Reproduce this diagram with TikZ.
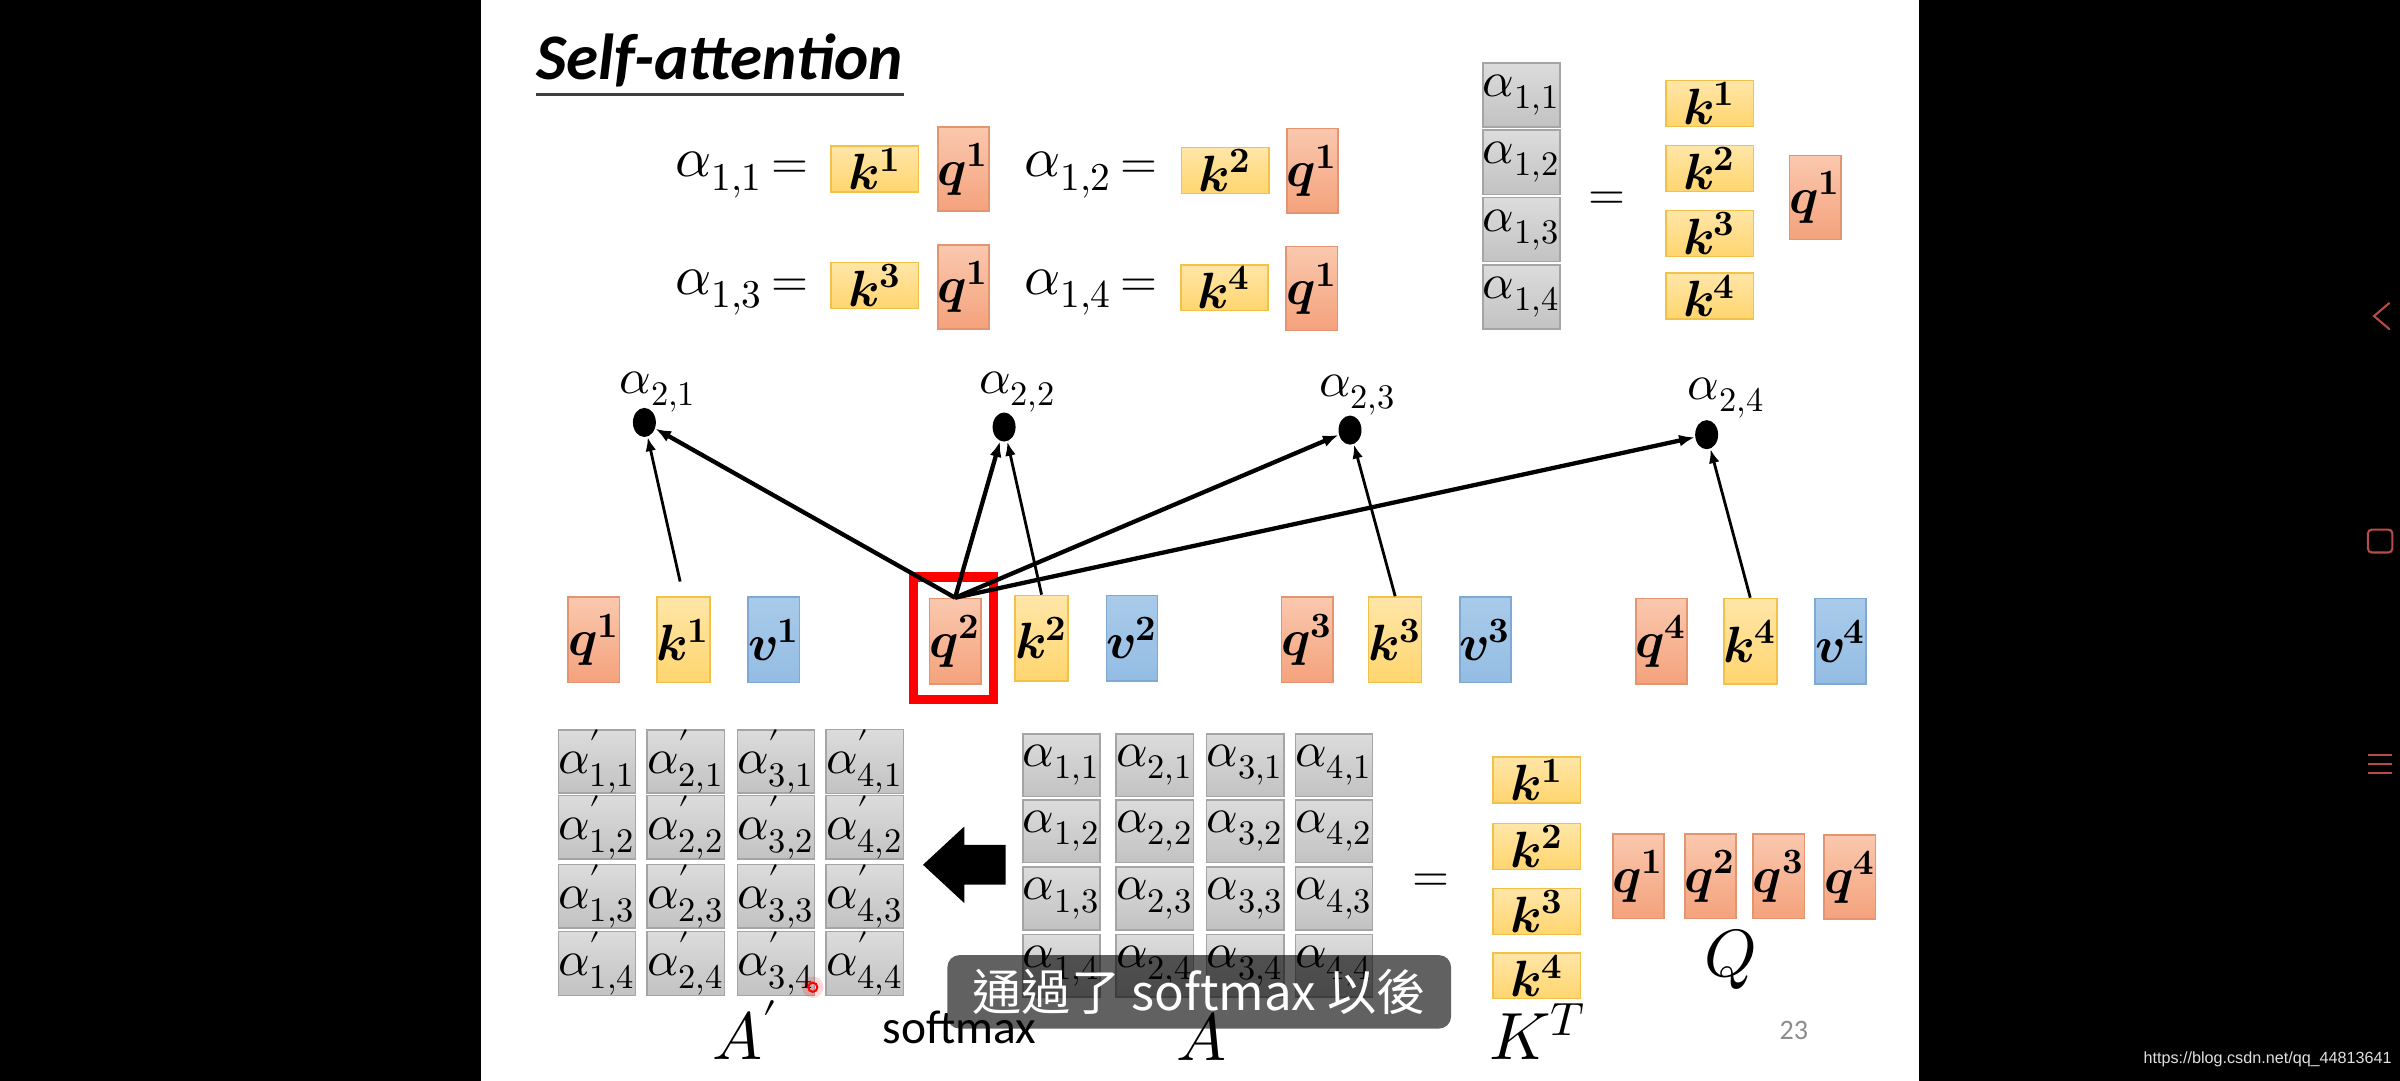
\documentclass[tikz,border=0pt]{standalone}
\usepackage{amsmath}
\usepackage{fontspec}
\usepackage{unicode-math}
\setmainfont{Carlito}
\newfontfamily\cjkfont{Noto Sans CJK TC}
\newfontfamily\wmfont{Liberation Sans}
\usetikzlibrary{arrows.meta,calc,shapes.geometric}
\newlength\ulen
\setlength\ulen{0.015306cm}
\definecolor{qT}{HTML}{FAC8AE}
\definecolor{qB}{HTML}{F4A27C}
\definecolor{qL}{HTML}{E39470}
\definecolor{kT}{HTML}{FFE6A8}
\definecolor{kB}{HTML}{FFD56E}
\definecolor{kL}{HTML}{F2C14A}
\definecolor{vT}{HTML}{A9CBEA}
\definecolor{vB}{HTML}{94BCE3}
\definecolor{vL}{HTML}{7FA8D4}
\definecolor{gT}{HTML}{DCDCDC}
\definecolor{gB}{HTML}{C2C2C2}
\definecolor{gL}{HTML}{A5A5A5}
\definecolor{iconC}{HTML}{B84A47}
\newcommand\Kv[1]{$\symbfit{k}^{\symbf{#1}}$}
\newcommand\Qv[1]{$\symbfit{q}^{\symbf{#1}}$}
\newcommand\Vv[1]{$\symbfit{v}^{\symbf{#1}}$}
\tikzset{
  bx/.style={inner sep=0pt, line width=1\ulen, font=\fontsize{14.5}{16}\selectfont},
  qbox/.style={bx, draw=qL, top color=qT, bottom color=qB, minimum width=31\ulen, minimum height=55\ulen},
  kbox/.style={bx, draw=kL, top color=kT, bottom color=kB, minimum width=57\ulen, minimum height=30\ulen},
  qtall/.style={bx, draw=qL, top color=qT, bottom color=qB, minimum width=32\ulen, minimum height=56\ulen},
  ktall/.style={bx, draw=kL, top color=kT, bottom color=kB, minimum width=32\ulen, minimum height=56\ulen},
  vtall/.style={bx, draw=vL, top color=vT, bottom color=vB, minimum width=32\ulen, minimum height=56\ulen},
  gcell/.style={inner sep=0pt, draw=gL, line width=1\ulen, top color=gT, bottom color=gB, minimum width=48\ulen, minimum height=42\ulen, font=\fontsize{14}{15}\selectfont},
  alab/.style={inner sep=0pt, font=\fontsize{16}{18}\selectfont},
  eqlab/.style={inner sep=0pt, font=\fontsize{13.5}{15}\selectfont},
  mlab/.style={inner sep=0pt, font=\fontsize{14}{16}\selectfont},
  biglab/.style={inner sep=0pt, font=\fontsize{19}{21}\selectfont},
  adot/.style={ellipse, fill=black, inner sep=0pt, minimum width=15\ulen, minimum height=19\ulen},
  karr/.style={-{Latex[length=1.4mm,width=1.07mm]}, line width=0.28mm},
  qarr/.style={-{Latex[length=1.55mm,width=1.2mm]}, line width=0.43mm},
  icon/.style={draw=iconC, line width=0.21mm}
}
\begin{document}
\begin{tikzpicture}[x=\ulen, y=-\ulen]
\fill[black] (0,0) rectangle (1568,706);
\fill[white] (314,0) rectangle (1254,706);
\useasboundingbox (0,0) rectangle (1568,706);

% title
\node[inner sep=0pt, anchor=base west, font=\fontsize{18.5}{20}\selectfont\bfseries\itshape] (title) at (350,52) {Self-attention};
\draw[line width=0.28mm, black!75] ($(title.base west)+(0,10)$) -- ($(title.base east)+(0,10)$);

% top-left equations
\node[alab] (e11) at (470,114) {$\alpha_{1,1}$};
\node[eqlab] (eq11) at (516,111) {$=$};
\node[kbox] (tk1) at (571.5,110.5) {\Kv{1}};
\node[qbox] (tq11) at (629.5,110.5) {\Qv{1}};
\node[alab] (e12) at (698,114) {$\alpha_{1,2}$};
\node[eqlab] (eq12) at (744,111) {$=$};
\node[kbox] (tk2) at (800.5,111.5) {\Kv{2}};
\node[qbox] (tq12) at (857.5,111.5) {\Qv{1}};
\node[alab] (e13) at (470,191) {$\alpha_{1,3}$};
\node[eqlab] (eq13) at (516,188) {$=$};
\node[kbox] (tk3) at (571.5,186.5) {\Kv{3}};
\node[qbox] (tq13) at (629.5,187.5) {\Qv{1}};
\node[alab] (e14) at (698,191) {$\alpha_{1,4}$};
\node[eqlab] (eq14) at (744,188) {$=$};
\node[kbox] (tk4) at (800,188) {\Kv{4}};
\node[qbox] (tq14) at (857,188.5) {\Qv{1}};

% top-right block
\foreach \j/\y in {1/62,2/106,3/150,4/194}
  \node[gcell] (r\j) at (994,\y) {$\alpha_{1,\j}$};
\node[eqlab] (req) at (1050,131) {$=$};
\foreach \j/\y in {1/67.5,2/110,3/152.5,4/193.5}
  \node[kbox] (rk\j) at (1117,\y) {\Kv{\j}};
\node[qbox] (rq) at (1186,129) {\Qv{1}};

% middle: dots and labels
\node[adot] (d1) at (421,276) {};
\node[adot] (d2) at (656,279) {};
\node[adot] (d3) at (882,281) {};
\node[adot] (d4) at (1115,284) {};
\node[mlab] (l1) at (430,256) {$\alpha_{2,1}$};
\node[mlab] (l2) at (665,256) {$\alpha_{2,2}$};
\node[mlab] (l3) at (887,258) {$\alpha_{2,3}$};
\node[mlab] (l4) at (1128,260) {$\alpha_{2,4}$};

% middle: q k v boxes
\node[qtall] (q1) at (388,418) {\Qv{1}};
\node[ktall] (k1) at (446.5,418) {\Kv{1}};
\node[vtall] (v1) at (505.5,418) {\Vv{1}};
\node[qtall] (q2) at (624,419) {\Qv{2}};
\node[ktall] (k2) at (680.5,417) {\Kv{2}};
\node[vtall] (v2) at (739.5,417) {\Vv{2}};
\node[qtall] (q3) at (854,418) {\Qv{3}};
\node[ktall] (k3) at (911.5,418) {\Kv{3}};
\node[vtall] (v3) at (970.5,418) {\Vv{3}};
\node[qtall] (q4) at (1085.5,419) {\Qv{4}};
\node[ktall] (k4) at (1143.5,419) {\Kv{4}};
\node[vtall] (v4) at (1202.5,419) {\Vv{4}};
\node[draw=red, line width=6\ulen, inner sep=0pt, minimum width=52\ulen, minimum height=80\ulen] (rf) at (623,417) {};

% arrows
\draw[karr, shorten <=1.5mm] (k1.north) -- (d1);
\draw[karr] (k2.north) -- (d2);
\draw[karr] (k3.north) -- (d3);
\draw[karr] (k4.north) -- (d4);
\draw[qarr] (q2.north) -- (d1);
\draw[qarr] (q2.north) -- (d2);
\draw[qarr] (q2.north) -- (d3);
\draw[qarr] (q2.north) -- (d4);

% A' grid
\foreach \i/\x in {1/390,2/448,3/507,4/565}
  \foreach \j/\y in {1/497.5,2/540.5,3/585.5,4/629.5}
    \node[gcell, minimum height=41\ulen] (ap\i\j) at (\x,\y) {$\alpha'_{\i,\j}$};
\node[biglab] (Ap) at (487,673) {$A'$};

% softmax arrow
\fill[black] (603,565) -- (630,540) -- (630,552) -- (657,552) -- (657,578) -- (630,578) -- (630,590) -- cycle;
\node[inner sep=0pt, font=\fontsize{13.5}{15}\selectfont] (smx) at (627,671) {softmax};

% A grid
\foreach \i/\x in {1/693.5,2/754.5,3/813.5,4/871.5}
  \foreach \j/\y in {1/500,2/543,3/587,4/631}
    \node[gcell, minimum width=49\ulen, minimum height=41\ulen] (a\i\j) at (\x,\y) {$\alpha_{\i,\j}$};
\node[biglab] (Al) at (785,677) {$A$};

\node[eqlab] (beq) at (935,577) {$=$};

% K^T
\foreach \j/\y in {1/509.5,2/553,3/595.5,4/637.5}
  \node[kbox] (bk\j) at (1004,\y) {\Kv{\j}};
\node[biglab] (KT) at (1005,674) {$K^{T}$};

% Q
\node[qbox] (bq1) at (1070.5,572.5) {\Qv{1}};
\node[qbox] (bq2) at (1117.5,572.5) {\Qv{2}};
\node[qbox] (bq3) at (1162,572.5) {\Qv{3}};
\node[qbox] (bq4) at (1208.5,573) {\Qv{4}};
\node[biglab] (Ql) at (1131,627) {$Q$};

\node[inner sep=0pt, text=black!45, font=\fontsize{8}{9}\selectfont] (pg) at (1172,673) {23};

% subtitle
\node[fill=black, fill opacity=0.62, text opacity=1, text=white, rounded corners=1.2mm, inner sep=0pt, minimum width=329\ulen, minimum height=48\ulen, font=\cjkfont\fontsize{14}{16}\selectfont] (sub) at (783.5,648) {通過了 softmax 以後};

% cursor mark
\fill[red, opacity=0.15] (531,645) circle[radius=1.07mm];
\draw[red, line width=0.2mm] (531,645) circle[radius=0.46mm];

% phone nav icons
\draw[icon, line cap=round] (1561,198) -- (1551,206.5) -- (1561,215);
\draw[icon, rounded corners=0.4mm] (1547,346) rectangle (1563,361);
\draw[icon] (1547,493) -- (1563,493) (1547,499) -- (1563,499) (1547,505) -- (1563,505);

\node[anchor=east, inner sep=0pt, text=black!12, font=\wmfont\fontsize{4.6}{5}\selectfont] (wm) at (1563,692) {https://blog.csdn.net/qq\_44813641};
\end{tikzpicture}
\end{document}
